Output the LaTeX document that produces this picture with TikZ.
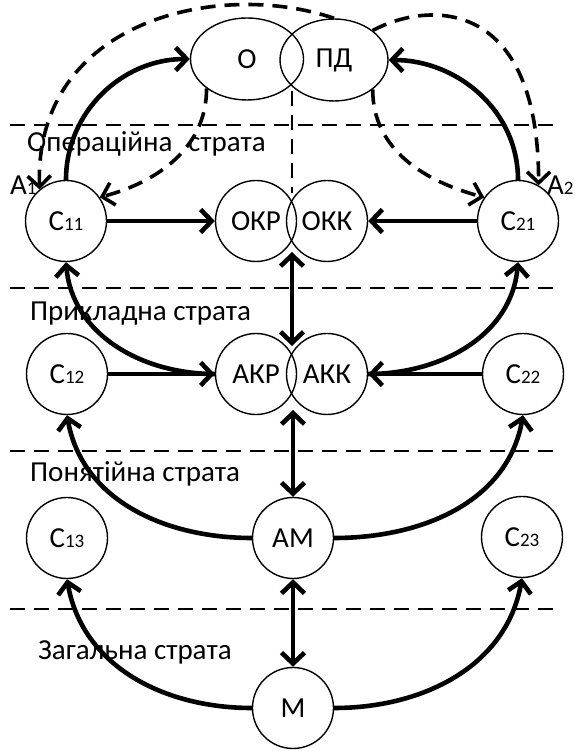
\documentclass[tikz,border=0pt]{standalone}
\usepackage{fontspec}
\setmainfont{Carlito}
\usetikzlibrary{arrows.meta,shapes.geometric}
\newcommand{\sbig}{\fontsize{29}{30}\selectfont}
\newcommand{\ssub}[1]{{\fontsize{19}{19}\selectfont #1}}
\begin{document}
\begin{tikzpicture}[x=1pt,y=1pt,
  circ/.style={circle,draw,line width=1.4pt,minimum size=81pt,inner sep=0pt,font=\sbig},
  ell/.style={ellipse,draw,line width=1.4pt,inner sep=0pt,font=\sbig},
  lbl/.style={inner sep=0pt,font=\sbig,anchor=base west},
  conn/.style={line width=4.6pt},
  dconn/.style={line width=3.6pt,dash pattern=on 15pt off 9pt},
  strata/.style={line width=2.9pt,dash pattern=on 15pt off 9pt},
  tip/.style={-{Straight Barb[length=11pt,width=23pt]}},
  dtip/.style={{Straight Barb[length=11pt,width=23pt]}-{Straight Barb[length=11pt,width=23pt]}}
]
\useasboundingbox (0,0) rectangle (574,751);

% strata lines
\draw[strata] (10,626) -- (560,626);
\draw[strata] (10,463) -- (560,463);
\draw[strata] (10,300) -- (560,300);
\draw[strata] (10,142) -- (560,142);

% nodes
\node[ell,minimum width=113pt,minimum height=82pt] (O) at (247,692) {О};
\node[ell,minimum width=108pt,minimum height=82pt] (PD) at (334,691) {ПД};
\node[circ] (C11) at (66,530) {С\ssub{11}};
\node[circ] (OKR) at (256,530) {ОКР};
\node[circ] (OKK) at (327,530) {ОКК};
\node[circ] (C21) at (518,530) {С\ssub{21}};
\node[circ] (C12) at (67,377) {С\ssub{12}};
\node[circ] (AKR) at (256,377) {АКР};
\node[circ] (AKK) at (327,377) {АКК};
\node[circ] (C22) at (523,377) {С\ssub{22}};
\node[circ] (C13) at (67,213) {С\ssub{13}};
\node[circ] (AM) at (293,213) {АМ};
\node[circ] (C23) at (522,214) {С\ssub{23}};
\node[circ] (M) at (293,43) {М};

% labels
\node[lbl] (A1) at (10,556) {А\ssub{1}};
\node[lbl] (A2) at (547,556) {А\ssub{2}};
\node[lbl] (L1) at (27,599) {Операційна\hspace{9pt} страта};
\node[lbl] (L2) at (30,430) {Прикладна страта};
\node[lbl] (L3) at (30,269) {Понятійна страта};
\node[lbl] (L4) at (38,91) {Загальна страта};

% helper points
\coordinate (d1) at (292,660);
\coordinate (d2) at (292,558);
\coordinate (x1) at (292,499);
\coordinate (x2) at (292,405);
\coordinate (x3) at (293,341);

% solid connectors
\draw[conn,tip] (C11.north) to[out=90,in=180] (O.west);
\draw[conn,tip] (C21.north) to[out=90,in=0] (PD.east);
\draw[conn,tip] (C11) -- (OKR);
\draw[conn,tip] (C21) -- (OKK);
\draw[conn,tip] (C12) -- (AKR);
\draw[conn,tip] (C22) -- (AKK);
\draw[conn,tip] (AKR.west) to[out=180,in=-85] (C11.south);
\draw[conn,tip] (AKK.east) to[out=0,in=-95] (C21.south);
\draw[conn,tip] (AM.west) to[out=180,in=-80] (C12.south);
\draw[conn,tip] (AM.east) to[out=0,in=-100] (C22.south);
\draw[conn,tip] (M.west) to[out=180,in=-80] (C13.south);
\draw[conn,tip] (M.east) to[out=0,in=-100] (C23.south);
\draw[conn,dtip] (x1) -- (x2);
\draw[conn,dtip] (x3) -- (AM.north);
\draw[conn,dtip] (AM.south) -- (M.north);

% dashed connectors
\draw[strata] (d1) -- (d2);
\draw[dconn,tip] (O.south west) to[out=-90,in=15] (C11.35);
\draw[dconn,tip] (PD.south east) to[out=-90,in=165] (C21.145);
\draw[dconn,tip] (PD.north) .. controls +(-114,39) and +(-5,170) .. (C11.130);
\draw[dconn,tip] (PD.north east) .. controls +(58,31) and +(0,186) .. (C21.60);
\end{tikzpicture}
\end{document}
